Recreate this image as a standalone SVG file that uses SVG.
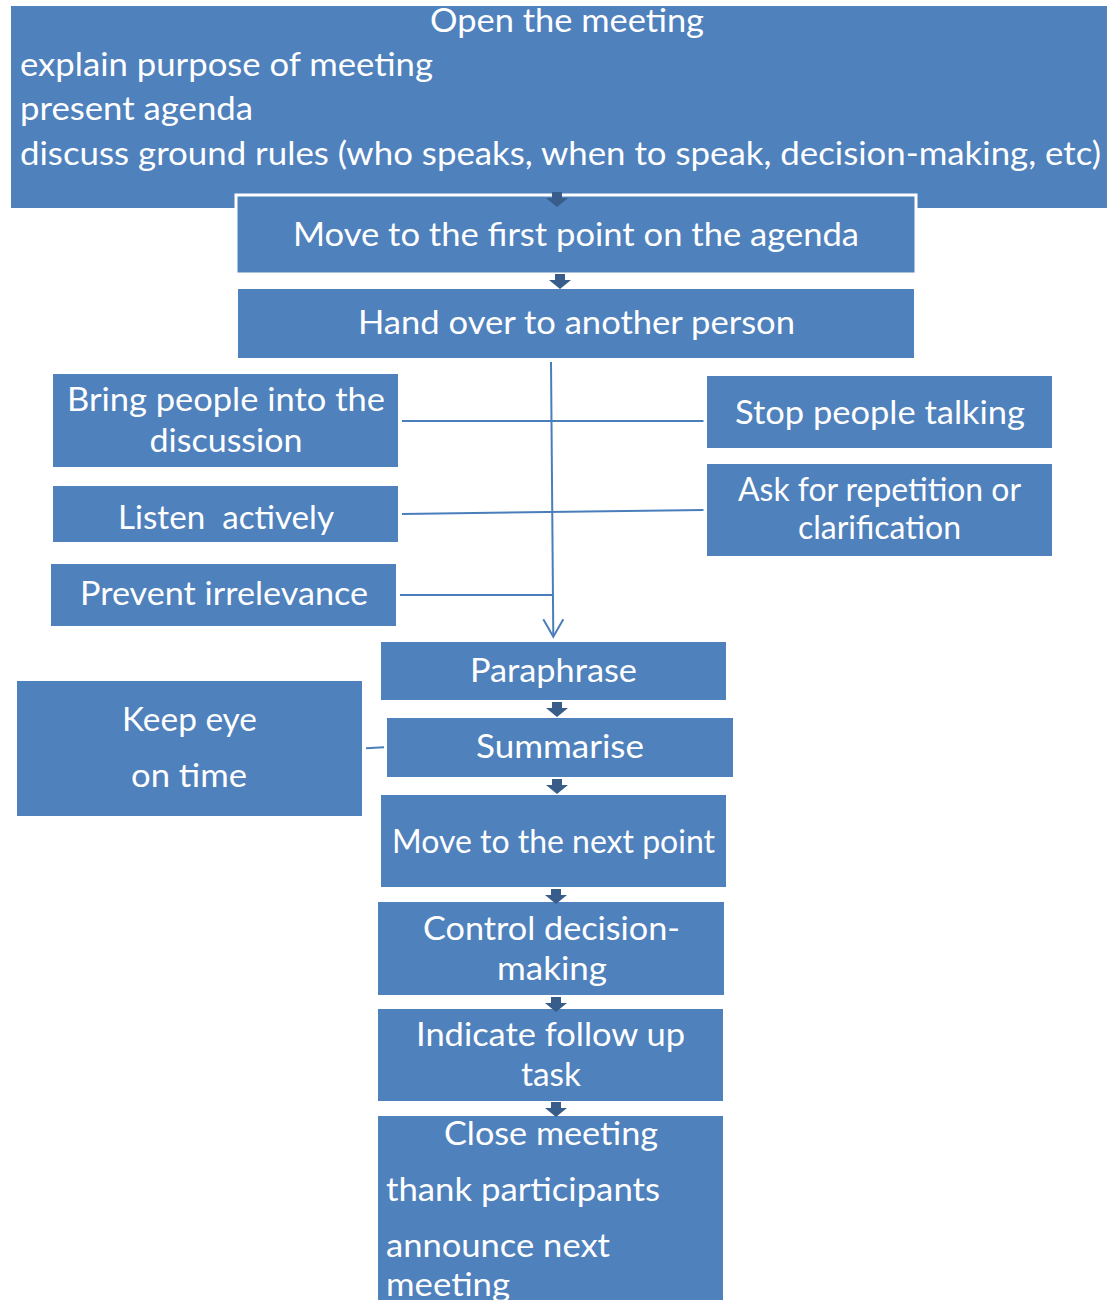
<svg xmlns="http://www.w3.org/2000/svg" xmlns:xlink="http://www.w3.org/1999/xlink" width="1108" height="1300" viewBox="0 0 1108 1300">
<style>
.box{fill:#4F81BD;stroke:#ffffff;stroke-width:2}
.t{font-family:Lato,"Open Sans","Liberation Sans",sans-serif;font-size:33px;fill:#ffffff}
.c{text-anchor:middle}
.ln{fill:none;stroke:#4A7EBB;stroke-width:2}
.blk{fill:#385D8A}
</style>
<defs>
<path id="blk" d="M-5 0 h10 v6 h6 l-11 9 l-11 -9 h6 z"/>
</defs>
<rect width="1108" height="1300" fill="#ffffff"/>
<g id="nodes">
<g id="open">
<rect class="box" x="10" y="5" width="1098" height="204"/>
<text class="t c" x="567" y="32" textLength="274" lengthAdjust="spacingAndGlyphs">Open the meeting</text>
<text class="t" x="20" y="76" textLength="413" lengthAdjust="spacingAndGlyphs">explain purpose of meeting</text>
<text class="t" x="20" y="120" textLength="233" lengthAdjust="spacingAndGlyphs">present agenda</text>
<text class="t" x="20" y="165" textLength="1081" lengthAdjust="spacingAndGlyphs">discuss ground rules (who speaks, when to speak, decision-making, etc)</text>
</g>
<g id="first">
<rect class="box" x="236" y="195" width="680" height="79" style="stroke-width:3"/>
<text class="t c" x="576" y="246" textLength="566" lengthAdjust="spacingAndGlyphs">Move to the first point on the agenda</text>
</g>
<g id="handover">
<rect class="box" x="237" y="288" width="678" height="71"/>
<text class="t c" x="576.5" y="334" textLength="437" lengthAdjust="spacingAndGlyphs">Hand over to another person</text>
</g>
<g id="bring">
<rect class="box" x="52" y="373" width="347" height="95"/>
<text class="t c" x="226" y="411" textLength="318" lengthAdjust="spacingAndGlyphs">Bring people into the</text>
<text class="t c" x="226" y="452" textLength="153" lengthAdjust="spacingAndGlyphs">discussion</text>
</g>
<g id="listen">
<rect class="box" x="52" y="485" width="347" height="58"/>
<text class="t c" x="226" y="529" textLength="216" lengthAdjust="spacingAndGlyphs" xml:space="preserve">Listen  actively</text>
</g>
<g id="prevent">
<rect class="box" x="50" y="563" width="347" height="64"/>
<text class="t c" x="224" y="605" textLength="288" lengthAdjust="spacingAndGlyphs">Prevent irrelevance</text>
</g>
<g id="stop">
<rect class="box" x="706" y="375" width="347" height="74"/>
<text class="t c" x="880" y="424" textLength="290" lengthAdjust="spacingAndGlyphs">Stop people talking</text>
</g>
<g id="ask">
<rect class="box" x="706" y="463" width="347" height="94"/>
<text class="t c" x="879.5" y="501" textLength="283" lengthAdjust="spacingAndGlyphs">Ask for repetition or</text>
<text class="t c" x="879.5" y="539" textLength="163" lengthAdjust="spacingAndGlyphs">clarification</text>
</g>
<g id="paraphrase">
<rect class="box" x="380" y="641" width="347" height="60"/>
<text class="t c" x="553.5" y="682" textLength="167" lengthAdjust="spacingAndGlyphs">Paraphrase</text>
</g>
<g id="summarise">
<rect class="box" x="386" y="717" width="348" height="61"/>
<text class="t c" x="560" y="758" textLength="168" lengthAdjust="spacingAndGlyphs">Summarise</text>
</g>
<g id="keepeye">
<rect class="box" x="16" y="680" width="347" height="137"/>
<text class="t c" x="189.5" y="731" textLength="135" lengthAdjust="spacingAndGlyphs">Keep eye</text>
<text class="t c" x="189" y="787" textLength="116" lengthAdjust="spacingAndGlyphs">on time</text>
</g>
<g id="nextpoint">
<rect class="box" x="380" y="794" width="347" height="94"/>
<text class="t c" x="553.5" y="853" textLength="323" lengthAdjust="spacingAndGlyphs">Move to the next point</text>
</g>
<g id="decision">
<rect class="box" x="377" y="901" width="348" height="95"/>
<text class="t c" x="551.5" y="940" textLength="257" lengthAdjust="spacingAndGlyphs">Control decision-</text>
<text class="t c" x="552" y="980" textLength="110" lengthAdjust="spacingAndGlyphs">making</text>
</g>
<g id="followup">
<rect class="box" x="377" y="1008" width="347" height="94"/>
<text class="t c" x="550.5" y="1046" textLength="269" lengthAdjust="spacingAndGlyphs">Indicate follow up</text>
<text class="t c" x="551" y="1086" textLength="60" lengthAdjust="spacingAndGlyphs">task</text>
</g>
<g id="close">
<rect class="box" x="377" y="1115" width="347" height="190"/>
<text class="t c" x="551" y="1145" textLength="214" lengthAdjust="spacingAndGlyphs">Close meeting</text>
<text class="t" x="386" y="1201" textLength="274" lengthAdjust="spacingAndGlyphs">thank participants</text>
<text class="t" x="386" y="1257" textLength="224" lengthAdjust="spacingAndGlyphs">announce next</text>
<text class="t" x="386" y="1296" textLength="124" lengthAdjust="spacingAndGlyphs">meeting</text>
</g>
</g>
<g id="connectors">
<path class="ln" d="M551 362 L553.3 636"/>
<path class="ln" d="M543.3 619.3 L553.3 636.7 L563.3 619.3"/>
<path class="ln" d="M402 421 H703.5"/>
<path class="ln" d="M402 514 L703.5 510"/>
<path class="ln" d="M400 595 H552"/>
<path class="ln" d="M366 748.3 L384 747.3"/>
<use xlink:href="#blk" class="blk" x="557" y="192"/>
<use xlink:href="#blk" class="blk" x="560" y="274"/>
<use xlink:href="#blk" class="blk" x="557" y="702"/>
<use xlink:href="#blk" class="blk" x="557" y="779"/>
<use xlink:href="#blk" class="blk" x="556" y="889"/>
<use xlink:href="#blk" class="blk" x="556" y="997"/>
<use xlink:href="#blk" class="blk" x="556" y="1102"/>
</g>
</svg>
